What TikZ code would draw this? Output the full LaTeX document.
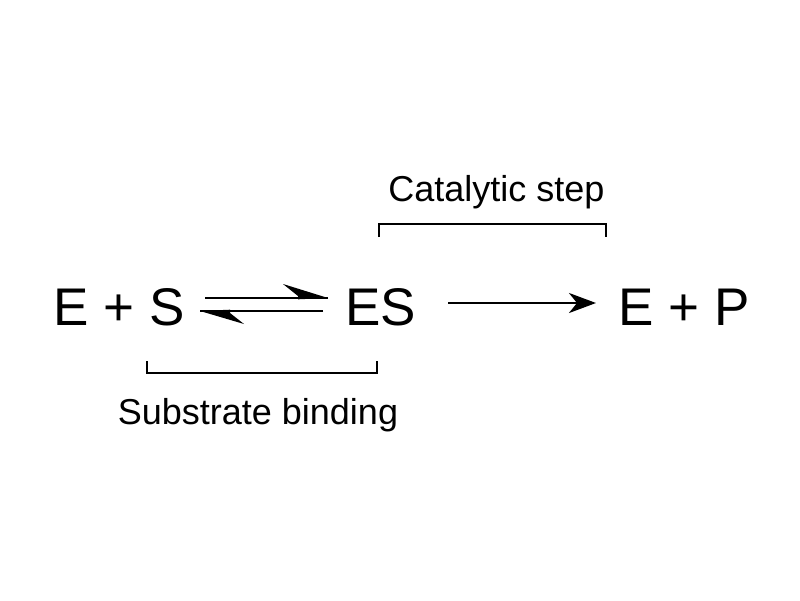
\documentclass[tikz,border=0pt]{standalone}
\usepackage{fontspec}
\setmainfont{Liberation Sans}
\usetikzlibrary{arrows.meta}
\tikzset{
  big/.style={inner sep=0pt, anchor=base, font=\fontsize{53}{60}\selectfont},
  lbl/.style={inner sep=0pt, anchor=base, font=\fontsize{36}{42}\selectfont},
  brk/.style={line width=2pt},
  harp/.style={line width=2.6pt},
  head/.style={fill=black, draw=none},
  main/.style={line width=2.6pt, -{Stealth[length=27pt, width=20pt, inset=8pt]}}
}
\begin{document}
\begin{tikzpicture}[x=1pt, y=-1pt]
\useasboundingbox (0,0) rectangle (800,600);
\node[big] (es0) at (119,325) {E + S};
\node[big] (es) at (380.5,325) {ES};
\node[big] (ep) at (684,325) {E + P};
\node[lbl] (cat) at (496.5,201) {Catalytic step};
\node[lbl] (sub) at (258,424) {Substrate binding};
% equilibrium harpoons
\coordinate (f1) at (205,298);
\coordinate (f2) at (328,298);
\coordinate (b1) at (323,311);
\coordinate (b2) at (200,311);
\draw[harp] (f1) -- (f2);
\fill[head] (f2) -- (283,284) -- (298,296) -- (298,299.3) -- cycle;
\draw[harp] (b1) -- (b2);
\fill[head] (b2) -- (244,324) -- (230,313) -- (230,309.7) -- cycle;
% catalytic arrow
\coordinate (m1) at (448,303);
\coordinate (m2) at (596,303);
\draw[main] (m1) -- (m2);
% brackets
\coordinate (c1) at (379,237);
\coordinate (c2) at (379,224);
\coordinate (c3) at (606,224);
\coordinate (c4) at (606,237);
\draw[brk] (c1) -- (c2) -- (c3) -- (c4);
\coordinate (s1) at (147,361);
\coordinate (s2) at (147,373);
\coordinate (s3) at (377,373);
\coordinate (s4) at (377,361);
\draw[brk] (s1) -- (s2) -- (s3) -- (s4);
\end{tikzpicture}
\end{document}
